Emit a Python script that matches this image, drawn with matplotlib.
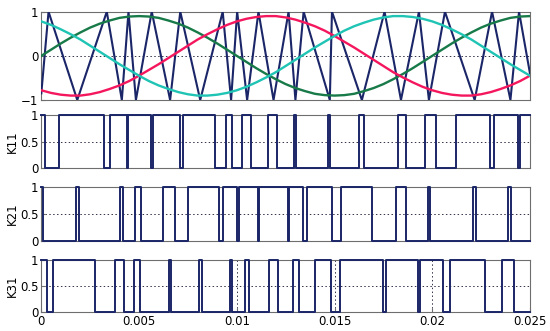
import numpy as np
import matplotlib
matplotlib.use('Agg')
import matplotlib.pyplot as plt

t_ref_ms = [0, 0.5, 1, 1.5, 2, 2.5, 3, 3.5, 4, 4.5, 5, 5.5, 6, 6.5, 7, 7.5, 8, 8.5,
            9, 9.5, 10, 10.5, 11, 11.5, 12, 12.5, 13, 13.5, 14, 14.5, 15, 15.5, 16,
            16.5, 17, 17.5, 18, 18.5, 19, 19.5, 20, 20.5, 21, 21.5, 22, 22.5, 23,
            23.5, 24, 24.5, 25]
ref_a = [0, .14, .28, .41, .53, .64, .73, .80, .86, .89, .90,
         .89, .86, .80, .73, .64, .53, .41, .28, .14, 0,
         -.14, -.28, -.41, -.53, -.64, -.73, -.80, -.86, -.89, -.90,
         -.89, -.86, -.80, -.73, -.64, -.53, -.41, -.28, -.14, 0,
         .14, .28, .41, .53, .64, .73, .80, .86, .89, .90]
ref_b = [-.78, -.84, -.88, -.90, -.90, -.87, -.82, -.75, -.67, -.57, -.45,
         -.32, -.19, -.05, .09, .23, .37, .49, .60, .70, .78,
         .84, .88, .90, .90, .87, .82, .75, .67, .57, .45,
         .32, .19, .05, -.09, -.23, -.37, -.49, -.60, -.70, -.78,
         -.84, -.88, -.90, -.90, -.87, -.82, -.75, -.67, -.57, -.45]
ref_c = [.78, .70, .60, .49, .37, .23, .09, -.05, -.19, -.32, -.45,
         -.57, -.67, -.75, -.82, -.87, -.90, -.90, -.88, -.84, -.78,
         -.70, -.60, -.49, -.37, -.23, -.09, .05, .19, .32, .45,
         .57, .67, .75, .82, .87, .90, .90, .88, .84, .78,
         .70, .60, .49, .37, .23, .09, -.05, -.19, -.32, -.45]

# carrier vertices
carrier_t = [0.0, 0.00037, 0.00184, 0.00335, 0.00412, 0.00446, 0.00484, 0.00565,
             0.00659, 0.00711, 0.00813, 0.00928, 0.00971, 0.01002, 0.01053, 0.01111,
             0.01188, 0.01265, 0.01300, 0.01342, 0.01476, 0.01487, 0.01640, 0.01756,
             0.01840, 0.01932, 0.01983, 0.02065, 0.02217, 0.02306, 0.02400, 0.02444,
             0.025]
carrier_v = [-0.85, 1, -1, 1, -1, 1, -1, 1, -1, 1, -1, 1, -1, 1, -1, 1, -1, 1, -1, 1,
             -1, 1, -1, 1, -1, 1, -1, 1, -1, 1, -1, 1, -0.4]

# switching instants of the gate signals (state toggles at each)
k11_start = 1
k11_edges = [0.00020, 0.00088, 0.00322, 0.00349, 0.00438, 0.00446, 0.00562, 0.00570,
             0.00707, 0.00727, 0.00890, 0.00946, 0.00978, 0.01029, 0.01072, 0.01162,
             0.01205, 0.01293, 0.01304, 0.01469, 0.01477, 0.01627, 0.01649, 0.01824,
             0.01868, 0.01965, 0.02019, 0.02122, 0.02298, 0.02316, 0.02440, 0.02447]
k21_start = 1
k21_edges = [0.00008, 0.00179, 0.00192, 0.00404, 0.00419, 0.00477, 0.00508, 0.00621,
             0.00685, 0.00752, 0.00907, 0.00930, 0.01000, 0.01009, 0.01107, 0.01116,
             0.01261, 0.01269, 0.01338, 0.01361, 0.01485, 0.01534, 0.01692, 0.01817,
             0.01866, 0.01976, 0.01989, 0.02210, 0.02222, 0.02385, 0.02403]
k31_start = 1
k31_edges = [0.00031, 0.00059, 0.00275, 0.00378, 0.00424, 0.00475, 0.00506, 0.00651,
             0.00663, 0.00805, 0.00821, 0.00967, 0.00974, 0.01044, 0.01063, 0.01164,
             0.01210, 0.01286, 0.01316, 0.01398, 0.01484, 0.01526, 0.01750, 0.01765,
             0.01927, 0.01939, 0.02055, 0.02091, 0.02272, 0.02357, 0.02416]

x_ticks = [0, 0.005, 0.01, 0.015, 0.02, 0.025]
x_ticklabels = ['0', '0.005', '0.01', '0.015', '0.02', '0.025']

navy = '#1b2668'
frame = '#6e6e6e'
grid_kw = dict(color='#303048', linestyle=(0, (1.5, 2.5)), linewidth=0.7)

t_ref = np.array(t_ref_ms) / 1000.0

fig = plt.figure(figsize=(5.5, 3.31), dpi=100)
fig.patch.set_facecolor('white')

L, W = 0.0751, 0.8885
ax0 = fig.add_axes([L, 0.6979, W, 0.2668])
ax1 = fig.add_axes([L, 0.4915, W, 0.161])
ax2 = fig.add_axes([L, 0.2719, W, 0.164])
ax3 = fig.add_axes([L, 0.0565, W, 0.158])

ax0.plot(carrier_t, carrier_v, color=navy, linewidth=1.5, zorder=3)
ax0.plot(t_ref, ref_a, color='#177a48', linewidth=1.7, zorder=4)
ax0.plot(t_ref, ref_b, color='#f5175e', linewidth=1.7, zorder=4)
ax0.plot(t_ref, ref_c, color='#1fc4b4', linewidth=1.7, zorder=4)
ax0.set_ylim(-1, 1)
ax0.set_yticks([-1, 0, 1])
ax0.set_yticklabels(['\u22121', '0', '1'])
ax0.axhline(0, **grid_kw, zorder=1)


def gate(start, edges):
    tt = [0.0] + edges + [0.025]
    vals = []
    s = start
    for i in range(len(edges) + 1):
        vals.append(s)
        s = 1 - s
    vals.append(vals[-1])
    return tt, vals


for ax, (st, ed), name in [(ax1, (k11_start, k11_edges), 'K11'),
                           (ax2, (k21_start, k21_edges), 'K21'),
                           (ax3, (k31_start, k31_edges), 'K31')]:
    tt, vv = gate(st, ed)
    ax.step(tt, vv, where='post', color=navy, linewidth=1.4, clip_on=False, zorder=5)
    ax.set_ylim(0, 1)
    ax.set_yticks([0, 0.5, 1])
    ax.set_yticklabels(['0', '0.5', '1'])
    ax.axhline(0.5, **grid_kw, zorder=1)
    ax.set_ylabel(name, fontsize=8.5, labelpad=1)

for ax in [ax0, ax1, ax2, ax3]:
    ax.set_xlim(0, 0.025)
    ax.set_xticks(x_ticks)
    ax.tick_params(direction='in', length=3, labelsize=8.5, pad=2, color=frame)
    for s in ax.spines.values():
        s.set_color(frame)
        s.set_linewidth(0.8)

for ax in [ax0, ax1, ax2]:
    ax.set_xticklabels([])
    ax.tick_params(axis='x', length=0)

ax3.set_xticklabels(x_ticklabels)
for xv in x_ticks[1:-1]:
    ax3.axvline(xv, **grid_kw, zorder=1)

fig.savefig('out.png', dpi=100)
